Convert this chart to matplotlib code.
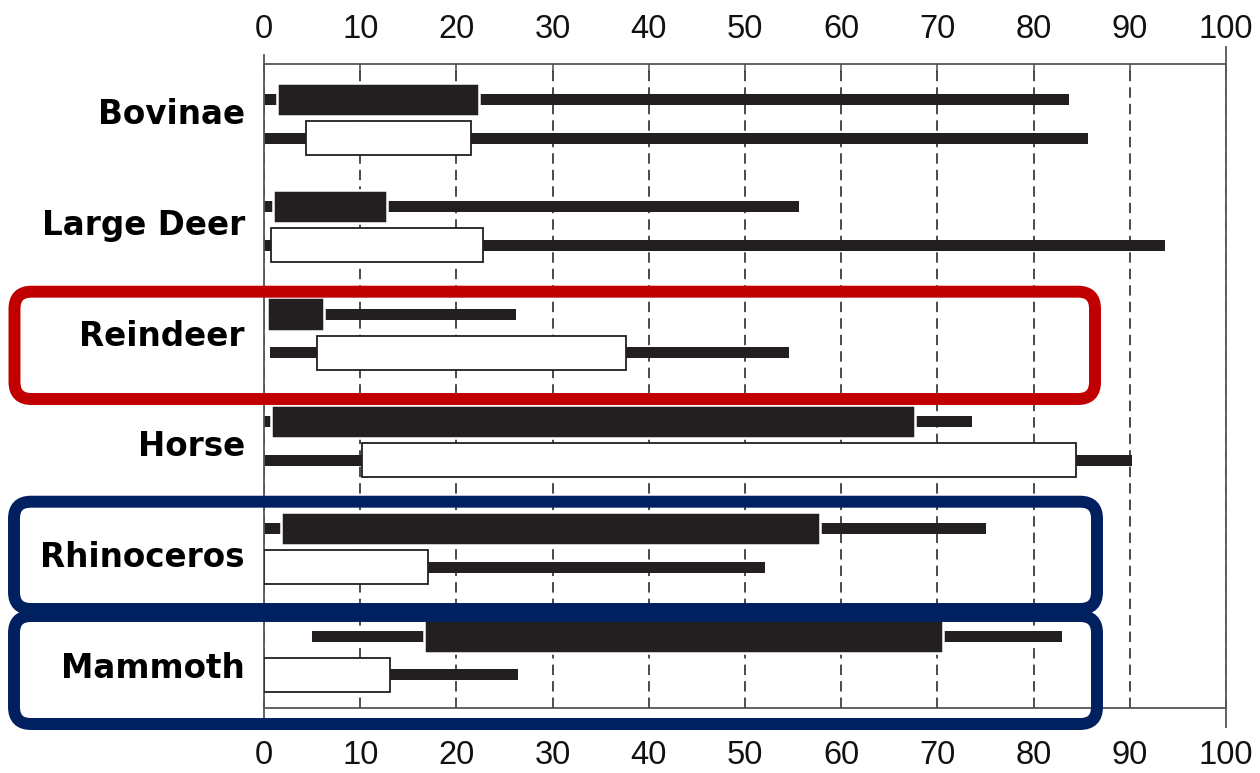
import numpy as np
import matplotlib
matplotlib.use("Agg")
import matplotlib.pyplot as plt
from matplotlib.patches import FancyBboxPatch

# ---- data (percent) ----
categories = ["Bovinae", "Large Deer", "Reindeer", "Horse", "Rhinoceros", "Mammoth"]
# black series: whisker min, box left, box right, whisker max
black_min = np.array([0.0, 0.0, 0.35, 0.0, 0.0, 5.0])
black_q1 = np.array([1.3, 0.9, 0.35, 0.7, 1.8, 16.6])
black_q3 = np.array([22.4, 12.8, 6.2, 67.7, 57.8, 70.6])
black_max = np.array([83.7, 55.6, 26.2, 73.6, 75.1, 83.0])
# white series
white_min = np.array([0.0, 0.0, 0.6, 0.0, 0.0, 0.0])
white_q1 = np.array([4.4, 0.7, 5.5, 10.2, 0.0, 0.0])
white_q3 = np.array([21.5, 22.8, 37.6, 84.4, 17.0, 13.1])
white_max = np.array([85.7, 93.7, 54.6, 90.2, 52.1, 26.4])
xticks = list(range(0, 101, 10))

DARK = "#231F20"
SPINE = "#555555"
RED = "#C00000"
NAVY = "#002060"

W, H = 1260, 773
fig = plt.figure(figsize=(W / 100, H / 100), dpi=100)
ax = fig.add_axes([264 / W, (H - 708) / H, 962 / W, 644 / H])
ax.set_xlim(0, 100)
ax.set_ylim(6, 0)

idx = np.arange(len(categories))
yb = idx + 0.33
yw = idx + 0.69

# whiskers
ax.barh(yb, black_max - black_min, left=black_min, height=0.1025,
        color=DARK, linewidth=0, zorder=2)
ax.barh(yw, white_max - white_min, left=white_min, height=0.1025,
        color=DARK, linewidth=0, zorder=2)
# boxes
ax.barh(yb, black_q3 - black_q1, left=black_q1, height=0.31,
        color=DARK, edgecolor="white", linewidth=1.8, zorder=3)
ax.barh(yw, white_q3 - white_q1, left=white_q1, height=0.318,
        color="white", edgecolor=DARK, linewidth=1.3, zorder=3)

# grid
ax.set_xticks(xticks)
ax.xaxis.grid(True, linestyle=(0, (6, 3.5)), color="#333333", linewidth=1.25, zorder=1)
ax.set_axisbelow(True)
ax.set_yticks([])
ax.tick_params(axis="x", direction="in", length=6, width=1.2, color=SPINE,
               labelsize=23.5, pad=23, labelcolor="#111111", top=False)
for lab in ax.get_xticklabels():
    lab.set_family("Liberation Sans")

sec = ax.secondary_xaxis("top")
sec.set_xticks(xticks)
sec.tick_params(axis="x", direction="in", length=6, width=1.2, color=SPINE,
                labelsize=23.5, pad=13.5, labelcolor="#111111")
for lab in sec.get_xticklabels():
    lab.set_family("Liberation Sans")
for s in sec.spines.values():
    s.set_visible(False)

for s in ax.spines.values():
    s.set_color(SPINE)
    s.set_linewidth(1.3)
ax.spines["left"].set_bounds(6.09, -0.084)
ax.spines["right"].set_bounds(6.177, -0.158)

# category labels
for i, cat in enumerate(categories):
    ax.text(-2.0, 0.559 + 1.0323 * i, cat, ha="right", va="baseline",
            fontsize=23.5, fontweight="bold", family="DejaVu Sans",
            color="black", clip_on=False)

# highlight overlay (pixel coordinates)
ov = fig.add_axes([0, 0, 1, 1], zorder=10)
ov.set_xlim(0, W)
ov.set_ylim(H, 0)
ov.axis("off")
ov.patch.set_alpha(0)
boxes = [((14.5, 291.7), 1080.5, 107.3, RED),
         ((14, 501.7), 1083, 107.3, NAVY),
         ((14, 616), 1083, 108, NAVY)]
for (x0, y0), bw, bh, col in boxes:
    ov.add_patch(FancyBboxPatch((x0, y0), bw, bh,
                                boxstyle="round,pad=0,rounding_size=17",
                                facecolor="none", edgecolor=col, linewidth=8.6))

fig.savefig("out.png", dpi=100)
